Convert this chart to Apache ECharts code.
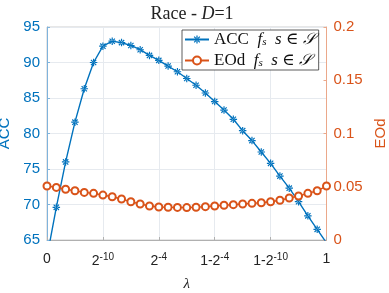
<!DOCTYPE html>
<html><head><meta charset="utf-8">
<script src="https://cdn.jsdelivr.net/npm/echarts@6/dist/echarts.min.js"></script>
<style>html,body{margin:0;padding:0;background:#fff}#c{width:389px;height:293px}</style>
</head><body><div id="c"></div>
<script>
const xIndex = [0,1,2,3,4,5,6,7,8,9,10,11,12,13,14,15,16,17,18,19,20,21,22,23,24,25,26,27,28,29,30];
const xTickLabels = ['0','2^-10','2^-4','1-2^-4','1-2^-10','1'];
const accValues = [62.6,69.6,76.0,81.6,86.3,90.0,92.3,93.0,92.8,92.4,91.8,91.0,90.3,89.5,88.7,87.75,86.8,85.7,84.5,83.3,82.0,80.4,79.0,77.4,75.8,74.0,72.3,70.4,68.4,66.5,64.6];
const eodValues = [0.0507,0.0494,0.0476,0.0462,0.0447,0.0438,0.0422,0.0406,0.0385,0.0359,0.0338,0.0319,0.0310,0.0307,0.0306,0.0304,0.0307,0.0313,0.0319,0.0326,0.0332,0.0338,0.0344,0.0350,0.0359,0.0373,0.0394,0.0413,0.0438,0.0462,0.0507];
const accTicks = [65,70,75,80,85,90,95];
const eodTicks = [0,0.05,0.1,0.15,0.2];

const blue = '#0072BD', orange = '#D95319';
const star = 'path://M-4.5,-0.7H4.5V0.7H-4.5Z M-0.7,-4.5H0.7V4.5H-0.7Z M2.69,3.68L3.68,2.69L-2.69,-3.68L-3.68,-2.69Z M3.68,-2.69L2.69,-3.68L-3.68,2.69L-2.69,3.68Z';
const chart = echarts.init(document.getElementById('c'), null, {renderer:'canvas'});
const serif = '"Liberation Serif","DejaVu Serif",serif';
const sans = '"Liberation Sans",Arial,sans-serif';
function tickFmt(v){
  const i = Math.round(v/6);
  const s = xTickLabels[i];
  if (s === undefined) return '';
  const m = s.match(/^(.*)\^(.*)$/);
  if (!m) return '{b|' + s + '}';
  return '{b|' + m[1] + '}{sup|' + m[2] + '}';
}
const legendRich = {
  n:{fontFamily:serif,fontSize:17,lineHeight:17,color:'#111'},
  i:{fontFamily:serif,fontSize:17,lineHeight:17,fontStyle:'italic',color:'#111'},
  sub:{fontFamily:serif,fontSize:11,lineHeight:17,fontStyle:'italic',color:'#111',verticalAlign:'bottom',padding:[6,0,0,0]},
  c:{fontFamily:'"DejaVu Serif","Noto Sans",serif',fontSize:16,lineHeight:17,fontStyle:'italic',color:'#111'}
};
chart.setOption({
  animation:false,
  title:{text:'{n|Race - }{i|D}{n|=1}',left:187,textAlign:'center',top:0,
    textStyle:{fontWeight:'normal',rich:{n:{fontFamily:serif,fontSize:18,fontWeight:'normal',color:'#222'},i:{fontFamily:serif,fontSize:18,fontWeight:'normal',fontStyle:'italic',color:'#222'}}}},
  grid:{left:47,right:62.5,top:27,bottom:53,show:true,borderColor:'#cfcfcf',borderWidth:1,outerBoundsMode:'none',containLabel:false},
  legend:{orient:'vertical',left:182,top:30,itemGap:4,itemWidth:24,itemHeight:10,padding:[1,4,1,2],
    backgroundColor:'#fff',borderColor:'#333',borderWidth:0.8,borderRadius:0,
    data:['ACC','EOd'],
    formatter:function(name){return '{n|'+name+'  }{i|f}{sub|s}{n|  }{i|s}{n| ∈ }{c|𝒮}';},
    textStyle:{rich:legendRich}},
  xAxis:{type:'value',min:0,max:30,interval:6,
    name:'λ',nameLocation:'middle',nameGap:37,nameTextStyle:{fontFamily:serif,fontSize:15,fontStyle:'italic',color:'#222'},
    axisLine:{lineStyle:{color:'#b0b0b0',width:1}},
    axisTick:{inside:true,length:3,lineStyle:{color:'#b0b0b0'}},
    splitLine:{show:true,lineStyle:{color:'#e6eaef',width:1}},
    axisLabel:{margin:12,formatter:tickFmt,rich:{b:{fontFamily:sans,fontSize:14,color:'#222'},sup:{fontFamily:sans,fontSize:10,color:'#222',verticalAlign:'top',padding:[0,0,8,0]}}}},
  yAxis:[{type:'value',min:65,max:95,interval:5,position:'left',
      name:'ACC',nameLocation:'middle',nameGap:28,nameRotate:90,nameTextStyle:{fontFamily:sans,fontSize:15,color:blue},
      axisLine:{show:true,lineStyle:{color:'#7fb3dc'}},
      axisTick:{show:true,inside:true,length:3,lineStyle:{color:'#7fb3dc'}},
      splitLine:{show:true,lineStyle:{color:'#e6eaef'}},
      axisLabel:{fontFamily:sans,fontSize:15,color:blue,margin:7}},
    {type:'value',min:0,max:0.2,interval:0.05,position:'right',
      name:'EOd',nameLocation:'middle',nameGap:42,nameRotate:90,nameTextStyle:{fontFamily:sans,fontSize:15,color:orange},
      axisLine:{show:true,lineStyle:{color:'#eba88a'}},
      axisTick:{show:true,inside:true,length:3,lineStyle:{color:'#eba88a'}},
      splitLine:{show:false},
      axisLabel:{fontFamily:sans,fontSize:15,color:orange,margin:7,formatter:v=>String(+v.toFixed(2))}}],
  series:[
    {name:'ACC',type:'line',yAxisIndex:0,data:xIndex.map((x,i)=>[x,accValues[i]]),clip:true,
      symbol:star,symbolSize:7.5,color:blue,lineStyle:{color:blue,width:1.4},itemStyle:{color:blue}},
    {name:'EOd',type:'line',yAxisIndex:1,data:xIndex.map((x,i)=>[x,eodValues[i]]),clip:true,
      symbol:'emptyCircle',symbolSize:7,color:orange,lineStyle:{color:orange,width:1.4},itemStyle:{color:orange,borderColor:orange,borderWidth:1.1}}
  ]
});
</script></body></html>
